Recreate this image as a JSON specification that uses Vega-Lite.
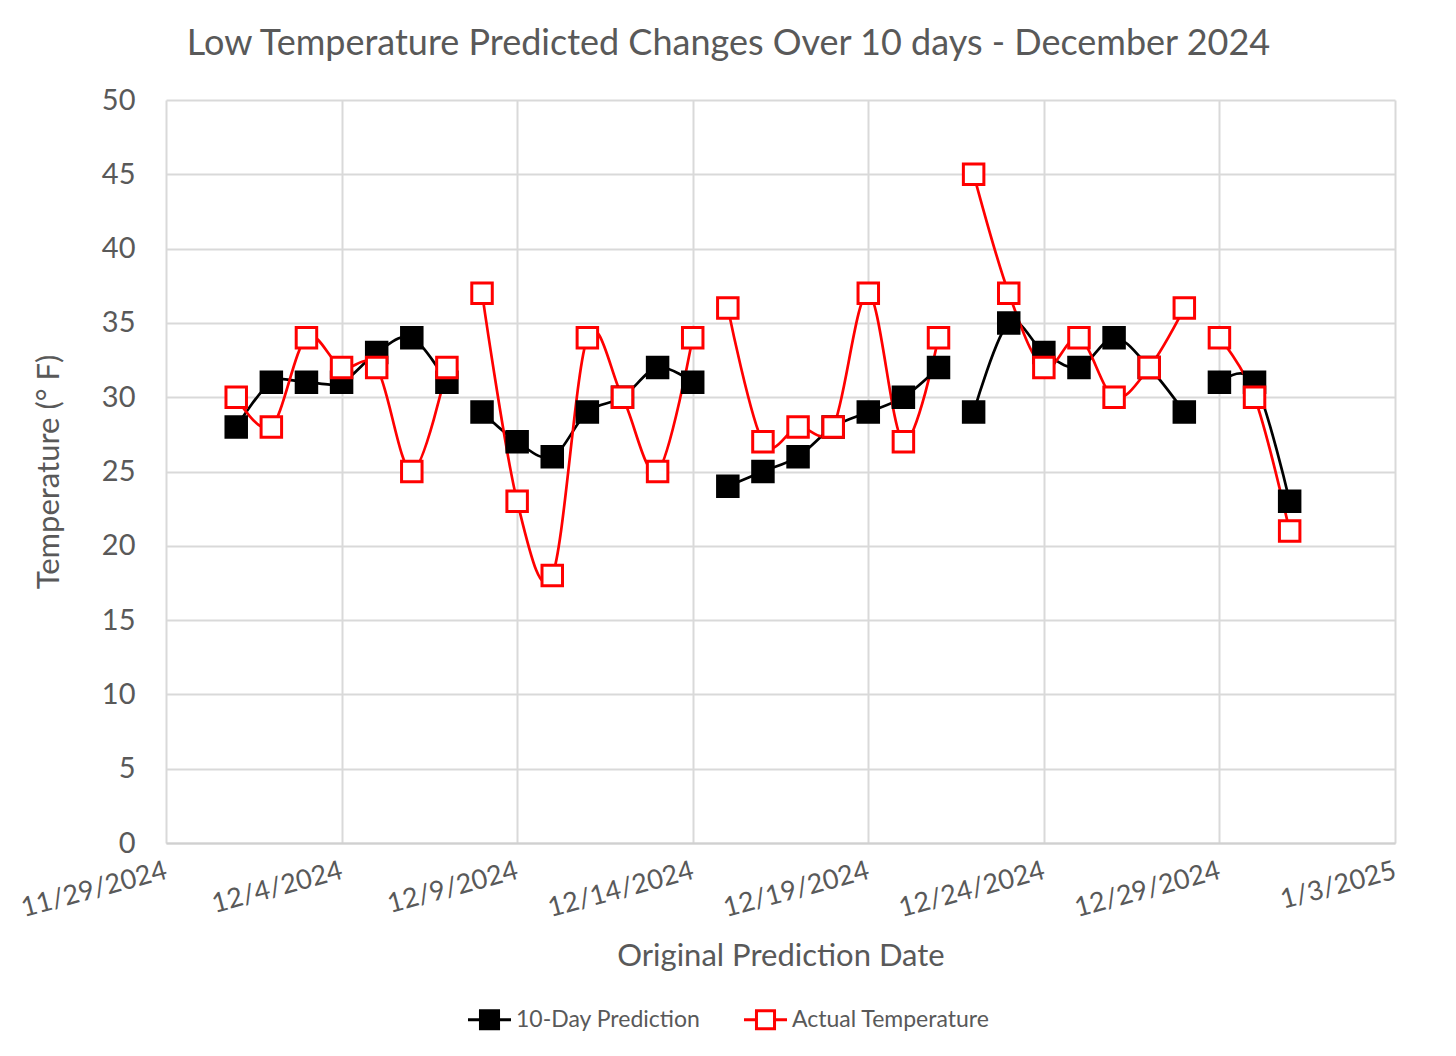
{
  "$schema": "https://vega.github.io/schema/vega-lite/v6.json",
  "width": 1229,
  "height": 743,
  "autosize": {"type": "none"},
  "padding": {"left": 166, "top": 100, "right": 61, "bottom": 213},
  "background": "white",
  "title": {
    "text": "Low Temperature Predicted Changes Over 10 days - December 2024",
    "font": "Lato",
    "fontSize": 36,
    "fontWeight": "normal",
    "color": "#595959",
    "anchor": "middle",
    "dx": -52,
    "offset": 23
  },
  "config": {
    "view": {"stroke": null},
    "font": "Lato"
  },
  "data": {
    "values": [
      {"date": "2024-12-01", "series": "10-Day Prediction", "temp": 28, "week": 1},
      {"date": "2024-12-02", "series": "10-Day Prediction", "temp": 31, "week": 1},
      {"date": "2024-12-03", "series": "10-Day Prediction", "temp": 31, "week": 1},
      {"date": "2024-12-04", "series": "10-Day Prediction", "temp": 31, "week": 1},
      {"date": "2024-12-05", "series": "10-Day Prediction", "temp": 33, "week": 1},
      {"date": "2024-12-06", "series": "10-Day Prediction", "temp": 34, "week": 1},
      {"date": "2024-12-07", "series": "10-Day Prediction", "temp": 31, "week": 1},
      {"date": "2024-12-08", "series": "10-Day Prediction", "temp": 29, "week": 2},
      {"date": "2024-12-09", "series": "10-Day Prediction", "temp": 27, "week": 2},
      {"date": "2024-12-10", "series": "10-Day Prediction", "temp": 26, "week": 2},
      {"date": "2024-12-11", "series": "10-Day Prediction", "temp": 29, "week": 2},
      {"date": "2024-12-12", "series": "10-Day Prediction", "temp": 30, "week": 2},
      {"date": "2024-12-13", "series": "10-Day Prediction", "temp": 32, "week": 2},
      {"date": "2024-12-14", "series": "10-Day Prediction", "temp": 31, "week": 2},
      {"date": "2024-12-15", "series": "10-Day Prediction", "temp": 24, "week": 3},
      {"date": "2024-12-16", "series": "10-Day Prediction", "temp": 25, "week": 3},
      {"date": "2024-12-17", "series": "10-Day Prediction", "temp": 26, "week": 3},
      {"date": "2024-12-18", "series": "10-Day Prediction", "temp": 28, "week": 3},
      {"date": "2024-12-19", "series": "10-Day Prediction", "temp": 29, "week": 3},
      {"date": "2024-12-20", "series": "10-Day Prediction", "temp": 30, "week": 3},
      {"date": "2024-12-21", "series": "10-Day Prediction", "temp": 32, "week": 3},
      {"date": "2024-12-22", "series": "10-Day Prediction", "temp": 29, "week": 4},
      {"date": "2024-12-23", "series": "10-Day Prediction", "temp": 35, "week": 4},
      {"date": "2024-12-24", "series": "10-Day Prediction", "temp": 33, "week": 4},
      {"date": "2024-12-25", "series": "10-Day Prediction", "temp": 32, "week": 4},
      {"date": "2024-12-26", "series": "10-Day Prediction", "temp": 34, "week": 4},
      {"date": "2024-12-27", "series": "10-Day Prediction", "temp": 32, "week": 4},
      {"date": "2024-12-28", "series": "10-Day Prediction", "temp": 29, "week": 4},
      {"date": "2024-12-29", "series": "10-Day Prediction", "temp": 31, "week": 5},
      {"date": "2024-12-30", "series": "10-Day Prediction", "temp": 31, "week": 5},
      {"date": "2024-12-31", "series": "10-Day Prediction", "temp": 23, "week": 5},
      {"date": "2024-12-01", "series": "Actual Temperature", "temp": 30, "week": 1},
      {"date": "2024-12-02", "series": "Actual Temperature", "temp": 28, "week": 1},
      {"date": "2024-12-03", "series": "Actual Temperature", "temp": 34, "week": 1},
      {"date": "2024-12-04", "series": "Actual Temperature", "temp": 32, "week": 1},
      {"date": "2024-12-05", "series": "Actual Temperature", "temp": 32, "week": 1},
      {"date": "2024-12-06", "series": "Actual Temperature", "temp": 25, "week": 1},
      {"date": "2024-12-07", "series": "Actual Temperature", "temp": 32, "week": 1},
      {"date": "2024-12-08", "series": "Actual Temperature", "temp": 37, "week": 2},
      {"date": "2024-12-09", "series": "Actual Temperature", "temp": 23, "week": 2},
      {"date": "2024-12-10", "series": "Actual Temperature", "temp": 18, "week": 2},
      {"date": "2024-12-11", "series": "Actual Temperature", "temp": 34, "week": 2},
      {"date": "2024-12-12", "series": "Actual Temperature", "temp": 30, "week": 2},
      {"date": "2024-12-13", "series": "Actual Temperature", "temp": 25, "week": 2},
      {"date": "2024-12-14", "series": "Actual Temperature", "temp": 34, "week": 2},
      {"date": "2024-12-15", "series": "Actual Temperature", "temp": 36, "week": 3},
      {"date": "2024-12-16", "series": "Actual Temperature", "temp": 27, "week": 3},
      {"date": "2024-12-17", "series": "Actual Temperature", "temp": 28, "week": 3},
      {"date": "2024-12-18", "series": "Actual Temperature", "temp": 28, "week": 3},
      {"date": "2024-12-19", "series": "Actual Temperature", "temp": 37, "week": 3},
      {"date": "2024-12-20", "series": "Actual Temperature", "temp": 27, "week": 3},
      {"date": "2024-12-21", "series": "Actual Temperature", "temp": 34, "week": 3},
      {"date": "2024-12-22", "series": "Actual Temperature", "temp": 45, "week": 4},
      {"date": "2024-12-23", "series": "Actual Temperature", "temp": 37, "week": 4},
      {"date": "2024-12-24", "series": "Actual Temperature", "temp": 32, "week": 4},
      {"date": "2024-12-25", "series": "Actual Temperature", "temp": 34, "week": 4},
      {"date": "2024-12-26", "series": "Actual Temperature", "temp": 30, "week": 4},
      {"date": "2024-12-27", "series": "Actual Temperature", "temp": 32, "week": 4},
      {"date": "2024-12-28", "series": "Actual Temperature", "temp": 36, "week": 4},
      {"date": "2024-12-29", "series": "Actual Temperature", "temp": 34, "week": 5},
      {"date": "2024-12-30", "series": "Actual Temperature", "temp": 30, "week": 5},
      {"date": "2024-12-31", "series": "Actual Temperature", "temp": 21, "week": 5}
    ]
  },
  "encoding": {
    "x": {
      "field": "date",
      "type": "temporal",
      "timeUnit": "utcyearmonthdate",
      "scale": {
        "domain": [
          {"year": 2024, "month": 11, "date": 29, "utc": true},
          {"year": 2025, "month": 1, "date": 3, "utc": true}
        ]
      },
      "axis": {
        "title": "Original Prediction Date",
        "titleFont": "Lato",
        "titleFontSize": 31,
        "titleFontWeight": "normal",
        "titleColor": "#595959",
        "titlePadding": 20,
        "values": [
          {"year": 2024, "month": 11, "date": 29, "utc": true},
          {"year": 2024, "month": 12, "date": 4, "utc": true},
          {"year": 2024, "month": 12, "date": 9, "utc": true},
          {"year": 2024, "month": 12, "date": 14, "utc": true},
          {"year": 2024, "month": 12, "date": 19, "utc": true},
          {"year": 2024, "month": 12, "date": 24, "utc": true},
          {"year": 2024, "month": 12, "date": 29, "utc": true},
          {"year": 2025, "month": 1, "date": 3, "utc": true}
        ],
        "format": "%-m/%-d/%Y",
        "labelAngle": -15,
        "labelAlign": "right",
        "labelBaseline": "middle",
        "labelFont": "Lato",
        "labelFontSize": 27,
        "labelColor": "#595959",
        "labelPadding": 27,
        "labelOverlap": false,
        "labelFlush": false,
        "ticks": false,
        "domainColor": "#d0d0d0",
        "domainWidth": 2,
        "grid": true,
        "gridColor": "#d9d9d9",
        "gridWidth": 2
      }
    },
    "y": {
      "field": "temp",
      "type": "quantitative",
      "scale": {"domain": [0, 50], "nice": false, "zero": true},
      "axis": {
        "title": "Temperature (° F)",
        "titleFont": "Lato",
        "titleFontSize": 31,
        "titleFontWeight": "normal",
        "titleColor": "#595959",
        "titlePadding": 36,
        "values": [0, 5, 10, 15, 20, 25, 30, 35, 40, 45, 50],
        "labelFont": "Lato",
        "labelFontSize": 29,
        "labelColor": "#595959",
        "labelPadding": 31,
        "ticks": false,
        "domain": false,
        "grid": true,
        "gridColor": "#d9d9d9",
        "gridWidth": 2
      }
    }
  },
  "layer": [
    {
      "mark": {"type": "line", "interpolate": "cardinal", "strokeWidth": 2.7},
      "encoding": {
        "stroke": {
          "field": "series",
          "type": "nominal",
          "scale": {"domain": ["10-Day Prediction", "Actual Temperature"], "range": ["#000000", "#ff0000"]},
          "legend": {
            "title": null,
            "orient": "none",
            "direction": "horizontal",
            "legendX": 300,
            "legendY": 896,
            "symbolType": "M-1,0H-0.42M0.42,0H1M-0.42,-0.42H0.42V0.42H-0.42Z",
            "symbolSize": 1850,
            "symbolStrokeWidth": 3,
            "labelFont": "Lato",
            "labelFontSize": 23,
            "labelColor": "#595959",
            "labelOffset": 3,
            "labelLimit": 0,
            "columnPadding": 36
          }
        },
        "detail": {"field": "week", "type": "nominal"}
      }
    },
    {
      "mark": {"type": "point", "shape": "square", "size": 420, "strokeWidth": 3, "opacity": 1},
      "encoding": {
        "stroke": {
          "field": "series",
          "type": "nominal",
          "scale": {"domain": ["10-Day Prediction", "Actual Temperature"], "range": ["#000000", "#ff0000"]},
          "legend": {
            "title": null,
            "orient": "none",
            "direction": "horizontal",
            "legendX": 300,
            "legendY": 896,
            "symbolType": "M-1,0H-0.42M0.42,0H1M-0.42,-0.42H0.42V0.42H-0.42Z",
            "symbolSize": 1850,
            "symbolStrokeWidth": 3,
            "labelFont": "Lato",
            "labelFontSize": 23,
            "labelColor": "#595959",
            "labelOffset": 3,
            "labelLimit": 0,
            "columnPadding": 36
          }
        },
        "fill": {
          "field": "series",
          "type": "nominal",
          "scale": {"domain": ["10-Day Prediction", "Actual Temperature"], "range": ["#000000", "#ffffff"]},
          "legend": {
            "title": null,
            "orient": "none",
            "direction": "horizontal",
            "legendX": 300,
            "legendY": 896,
            "symbolType": "M-1,0H-0.42M0.42,0H1M-0.42,-0.42H0.42V0.42H-0.42Z",
            "symbolSize": 1850,
            "symbolStrokeWidth": 3,
            "labelFont": "Lato",
            "labelFontSize": 23,
            "labelColor": "#595959",
            "labelOffset": 3,
            "labelLimit": 0,
            "columnPadding": 36
          }
        }
      }
    }
  ]
}
